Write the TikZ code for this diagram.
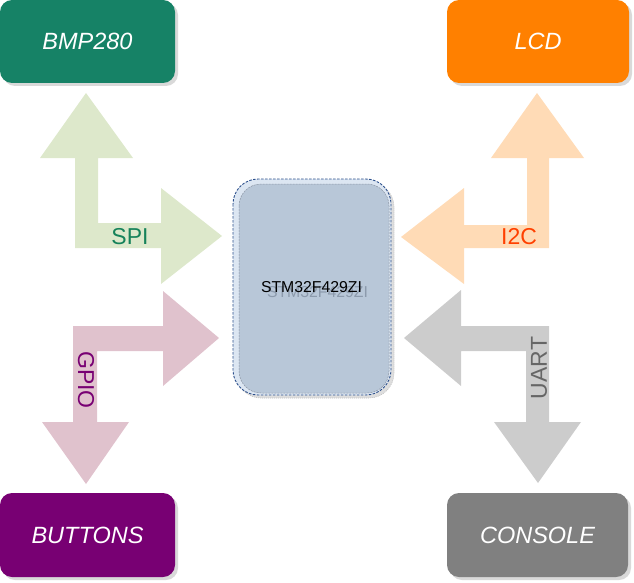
\documentclass[tikz,border=0pt]{standalone}
\usepackage{fontspec}
\setmainfont{Liberation Sans}
\usetikzlibrary{shadows}
\definecolor{bmpc}{RGB}{22,130,102}
\definecolor{lcdc}{RGB}{255,128,0}
\definecolor{btnc}{RGB}{120,0,115}
\definecolor{conc}{RGB}{128,128,128}
\definecolor{spic}{RGB}{221,232,203}
\definecolor{gpioc}{RGB}{224,194,205}
\definecolor{i2cc}{RGB}{255,219,182}
\definecolor{uartc}{RGB}{204,204,204}
\definecolor{spit}{RGB}{22,130,90}
\definecolor{i2ct}{RGB}{255,64,0}
\definecolor{uartt}{RGB}{102,102,102}
\definecolor{mcuout}{RGB}{220,230,242}
\definecolor{mcuin}{RGB}{184,199,216}
\definecolor{mcuedge}{RGB}{45,80,140}
\definecolor{mcuinedge}{RGB}{140,150,165}
\definecolor{mcushadow}{RGB}{222,222,222}
\definecolor{mcutextsh}{RGB}{140,154,172}
\begin{document}
\begin{tikzpicture}[x=1pt,y=-1pt,
  devbox/.style={rounded corners=12pt, minimum height=83pt, inner sep=0pt,
    text=white, font=\fontsize{23.5}{28}\selectfont\itshape,
    drop shadow={shadow xshift=3pt, shadow yshift=-3pt, fill=black!15, opacity=1}},
  buslabel/.style={font=\fontsize{23}{28}\selectfont, inner sep=0pt},
  mcutext/.style={font=\fontsize{15.8}{19}\selectfont, inner sep=0pt}
]
\useasboundingbox (0,0) rectangle (634,583);
% device boxes
\node[devbox, fill=bmpc, minimum width=175pt] (bmp) at (87.5,41.5) {BMP280};
\node[devbox, fill=lcdc, minimum width=182pt] (lcd) at (538,41.5) {LCD};
\node[devbox, fill=btnc, minimum width=175pt, minimum height=84pt] (btn) at (87.5,535) {BUTTONS};
\node[devbox, fill=conc, minimum width=181pt, minimum height=84pt] (con) at (537.5,535) {CONSOLE};
% block arrows
\fill[spic] (86,93) -- (133,158) -- (98,158) -- (98,223) -- (161,223) -- (161,188) -- (222,236)
  -- (161,284) -- (161,248) -- (75,248) -- (75,158) -- (40,158) -- cycle;
\fill[gpioc] (219,338) -- (163,291) -- (163,326) -- (73,326) -- (73,422) -- (42,422) -- (86,484)
  -- (129,422) -- (97,422) -- (97,351) -- (163,351) -- (163,386) -- cycle;
\fill[i2cc] (537,93) -- (584,158) -- (549,158) -- (549,248) -- (464,248) -- (464,284) -- (401,237)
  -- (464,188) -- (464,225) -- (527,225) -- (527,158) -- (491,158) -- cycle;
\fill[uartc] (404,338) -- (461,290) -- (461,326) -- (549,326) -- (549,422) -- (581,422) -- (538,483)
  -- (494,422) -- (526,422) -- (526,351) -- (461,351) -- (461,386) -- cycle;
% bus labels
\node[buslabel, text=spit] (spi) at (130,237) {SPI};
\node[buslabel, text=i2ct] (i2c) at (519,237) {I2C};
\node[buslabel, text=btnc, rotate=-90] (gpio) at (86,380) {GPIO};
\node[buslabel, text=uartt, rotate=90] (uart) at (539,368) {UART};
% MCU
\draw[black!25, fill=mcushadow, dash pattern=on 1pt off 1pt, line width=0.6pt, rounded corners=25pt] (236,182) rectangle (394,398);
\fill[mcuout, rounded corners=25pt] (233,179) rectangle (391,395);
\draw[mcuinedge, fill=mcuin, dash pattern=on 2pt off 1pt, line width=0.5pt, rounded corners=22pt] (239,184) rectangle (389,393);
\draw[mcuedge, dash pattern=on 2.5pt off 1.5pt, line width=0.9pt, rounded corners=25pt] (233,179) rectangle (391,395);
\node[mcutext, text=mcutextsh] (mcush) at (317.5,292) {STM32F429ZI};
\node[mcutext, text=black] (mcu) at (311.5,287) {STM32F429ZI};
\end{tikzpicture}
\end{document}
